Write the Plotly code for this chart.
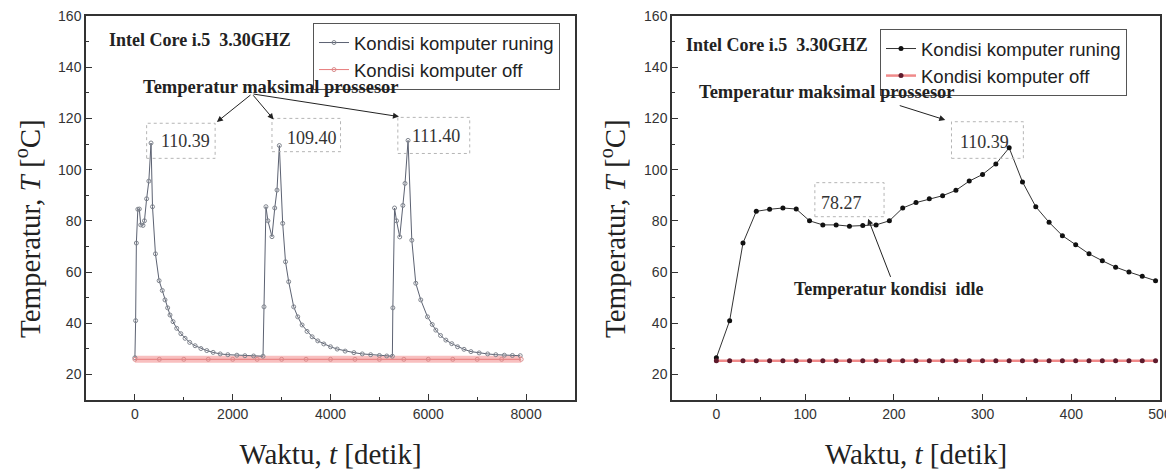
import plotly.graph_objects as go

# ---------------- data: left panel (long run, 3 cycles) ----------------
left_run_t = [0, 15, 30, 60, 90, 120, 165, 195, 240, 285, 330, 360, 420, 495,
              560, 615, 670, 718, 780, 855, 940, 1026, 1120, 1231, 1350, 1470,
              1600, 1744, 1900, 2085, 2250, 2427, 2620,
              2640, 2680, 2720, 2803, 2860, 2906, 2954, 3022, 3080, 3145, 3248,
              3330, 3419, 3520, 3624, 3740, 3863, 4000, 4137, 4300, 4479, 4650,
              4821, 5000, 5150, 5265,
              5275, 5310, 5350, 5416, 5480, 5524, 5586, 5663, 5744, 5846, 5983,
              6080, 6154, 6250, 6359, 6480, 6599, 6730, 6872, 7040, 7214, 7380,
              7555, 7720, 7880]
left_run_T = [26.5, 41.0, 71.3, 84.5, 84.6, 78.4, 78.2, 80.0, 88.6, 95.5, 110.39, 85.5, 67.1, 56.6,
              52.8, 49.1, 46.0, 43.2, 40.6, 38.0, 35.9, 34.1, 32.5, 31.2, 30.1, 29.3,
              28.6, 28.0, 27.7, 27.5, 27.3, 27.2, 27.1,
              46.4, 85.5, 80.0, 73.8, 85.0, 92.0, 109.40, 79.0, 64.0, 56.2, 46.4,
              42.5, 39.3, 36.8, 34.7, 33.1, 31.9, 30.8, 29.9, 29.1, 28.5, 28.0,
              27.7, 27.4, 27.2, 27.1,
              46.0, 85.0, 80.0, 73.7, 86.0, 94.6, 111.40, 72.4, 55.6, 49.1, 42.5,
              39.5, 37.3, 35.2, 33.4, 32.0, 30.8, 29.8, 28.9, 28.4, 28.0, 27.7,
              27.5, 27.4, 27.3]
left_off_t = [0, 500, 1000, 1500, 2000, 2500, 3000, 3500, 4000, 4500, 5000,
              5500, 6000, 6500, 7000, 7500, 7900]
left_off_T = [25.9, 25.9, 25.9, 25.9, 25.9, 25.9, 25.9, 25.9, 25.9, 25.9, 25.9,
              25.9, 25.9, 25.9, 25.9, 25.9, 25.9]

# ---------------- data: right panel (first 500 s) ----------------
right_t = [0, 15, 30, 45, 60, 75, 90, 105, 120, 135, 150, 165, 180, 195, 210,
           225, 240, 255, 270, 285, 300, 315, 330, 345, 360, 375, 390, 405,
           420, 435, 450, 465, 480, 495]
right_run_T = [26.5, 41.0, 71.3, 83.7, 84.5, 85.0, 84.6, 80.0, 78.4, 78.4, 77.9,
               78.2, 78.4, 80.0, 85.0, 87.1, 88.6, 89.8, 91.9, 95.5, 98.1, 102.2,
               108.5, 95.2, 85.5, 79.4, 74.2, 70.6, 67.1, 64.4, 61.9, 60.0, 58.3, 56.6]
right_off_T = [25.3, 25.3, 25.3, 25.3, 25.3, 25.3, 25.3, 25.3, 25.3, 25.3, 25.3,
               25.3, 25.3, 25.3, 25.3, 25.3, 25.3, 25.3, 25.3, 25.3, 25.3, 25.3,
               25.3, 25.3, 25.3, 25.3, 25.3, 25.3, 25.3, 25.3, 25.3, 25.3, 25.3, 25.3]

series_names = ["Kondisi komputer runing", "Kondisi komputer off"]
chip_label = "<b>Intel Core i.5  3.30GHZ</b>"
peak_label = "<b>Temperatur maksimal prossesor</b>"
idle_label = "<b>Temperatur kondisi  idle</b>"
left_peak_values = ["110.39", "109.40", "111.40"]
right_peak_value = "110.39"
right_idle_value = "78.27"
y_title_text = "Temperatur, <i>T</i> [<sup>o</sup>C]"
x_title_text = "Waktu, <i>t</i> [detik]"

SANS = "Liberation Sans, Arial, sans-serif"
SERIF = "Liberation Serif, Times New Roman, serif"

# page has an 8px body margin: figure placed at (8, 8)
W, H, OFF = 1166, 462, 8


def xp(px):
    return (px - OFF) / W


def yp(py):
    return 1 - (py - OFF) / H


fig = go.Figure()

# left panel traces
fig.add_trace(go.Scatter(x=left_off_t, y=left_off_T, mode="lines", xaxis="x", yaxis="y",
                         line=dict(color="rgba(245,170,170,0.75)", width=7),
                         showlegend=False, hoverinfo="skip"))
fig.add_trace(go.Scatter(x=left_run_t, y=left_run_T, mode="lines+markers", name=series_names[0],
                         xaxis="x", yaxis="y", legend="legend",
                         line=dict(color="#5c6272", width=1),
                         marker=dict(symbol="circle-open", size=4, color="#80858e",
                                     line=dict(width=1))))
fig.add_trace(go.Scatter(x=left_off_t, y=left_off_T, mode="lines+markers", name=series_names[1],
                         xaxis="x", yaxis="y", legend="legend",
                         line=dict(color="#e77b7b", width=1),
                         marker=dict(symbol="circle-open", size=4, color="#d98c8c",
                                     line=dict(width=1))))

# right panel traces
fig.add_trace(go.Scatter(x=right_t, y=right_run_T, mode="lines+markers", name=series_names[0],
                         xaxis="x2", yaxis="y2", legend="legend2",
                         line=dict(color="#333333", width=1),
                         marker=dict(symbol="circle", size=5, color="#111111")))
fig.add_trace(go.Scatter(x=right_t, y=right_off_T, mode="lines+markers", name=series_names[1],
                         xaxis="x2", yaxis="y2", legend="legend2",
                         line=dict(color="#f08a8a", width=2.5),
                         marker=dict(symbol="circle", size=5, color="#5e1a2c")))

axis_common = dict(showline=True, linecolor="#333", linewidth=1.5, mirror=True,
                   ticks="inside", ticklen=6, tickcolor="#333", tickwidth=1.2,
                   showgrid=False, zeroline=False, ticklabeloverflow="allow",
                   tickfont=dict(family=SANS, size=14, color="#333"))
xdom_l = [xp(86), xp(575)]
xdom_r = [xp(672), xp(1160)]
ydom = [yp(400), yp(16)]

xtitle = dict(text=x_title_text,
              font=dict(family=SERIF, size=29, color="#222"), standoff=24)

legend_common = dict(xanchor="left", yanchor="top", bordercolor="#555", borderwidth=1,
                     bgcolor="white", font=dict(family=SANS, size=18.5, color="#222"),
                     tracegroupgap=0, itemwidth=30)

fig.update_layout(
    width=W, height=H,
    margin=dict(l=0, r=0, t=0, b=0, autoexpand=False),
    paper_bgcolor="white", plot_bgcolor="white",
    xaxis=dict(domain=xdom_l, anchor="y", range=[-1000, 9000], dtick=2000, tick0=0,
               minor=dict(dtick=1000, ticklen=3, ticks="inside", tickcolor="#333"),
               title=xtitle, **axis_common),
    yaxis=dict(domain=ydom, anchor="x", range=[10, 160], dtick=20, tick0=0,
               minor=dict(dtick=10, ticklen=3, ticks="inside", tickcolor="#333"),
               **axis_common),
    xaxis2=dict(domain=xdom_r, anchor="y2", range=[-50, 500], dtick=100, tick0=0,
                minor=dict(dtick=50, ticklen=3, ticks="inside", tickcolor="#333"),
                title=xtitle, **axis_common),
    yaxis2=dict(domain=ydom, anchor="x2", range=[10, 160], dtick=20, tick0=0,
                minor=dict(dtick=10, ticklen=3, ticks="inside", tickcolor="#333"),
                **axis_common),
    legend=dict(x=xp(313), y=yp(23), **legend_common),
    legend2=dict(x=xp(880), y=yp(29), **legend_common),
)

ann = []
# y axis titles (rotated), placed as in the reference
for cx in (28, 613):
    ann.append(dict(x=xp(cx), y=yp(229), xref="paper", yref="paper", text=y_title_text,
                    textangle=-90, showarrow=False, xanchor="center", yanchor="middle",
                    font=dict(family=SERIF, size=29, color="#222")))

txt_font = dict(family=SERIF, size=18, color="#222")
# left panel texts
ann.append(dict(x=-580, y=150.6, xref="x", yref="y", text=chip_label, showarrow=False,
                xanchor="left", yanchor="middle", font=txt_font))
ann.append(dict(x=2787, y=132.4, xref="x", yref="y", text=peak_label, showarrow=False,
                xanchor="center", yanchor="middle", font=dict(family=SERIF, size=18.5, color="#222")))
left_label_pos = [(1026, 111.3), (3625, 112.2), (6166, 113.2)]
for (lx, ly), lab in zip(left_label_pos, left_peak_values):
    ann.append(dict(x=lx, y=ly, xref="x", yref="y", text=lab, showarrow=False,
                    xanchor="center", yanchor="middle",
                    font=dict(family=SERIF, size=18, color="#333")))
for hx, hy in [(1676, 118.6), (2837, 119.6), (5400, 120.7)]:
    ann.append(dict(x=hx, y=hy, ax=2394, ay=129.6, xref="x", yref="y", axref="x", ayref="y",
                    text="", showarrow=True, arrowhead=2, arrowsize=1.2, arrowwidth=1,
                    arrowcolor="#222"))
# right panel texts
ann.append(dict(x=-36, y=148.7, xref="x2", yref="y2", text=chip_label, showarrow=False,
                xanchor="left", yanchor="middle", font=txt_font))
ann.append(dict(x=124.7, y=130.4, xref="x2", yref="y2", text=peak_label, showarrow=False,
                xanchor="center", yanchor="middle", font=dict(family=SERIF, size=18.5, color="#222")))
ann.append(dict(x=194.5, y=53.4, xref="x2", yref="y2", text=idle_label, showarrow=False,
                xanchor="center", yanchor="middle", font=txt_font))
ann.append(dict(x=302.5, y=110.9, xref="x2", yref="y2", text=right_peak_value, showarrow=False,
                xanchor="center", yanchor="middle", font=dict(family=SERIF, size=18, color="#333")))
ann.append(dict(x=140.9, y=86.8, xref="x2", yref="y2", text=right_idle_value, showarrow=False,
                xanchor="center", yanchor="middle", font=dict(family=SERIF, size=18, color="#333")))
ann.append(dict(x=258, y=119.4, ax=205, ay=125.2, xref="x2", yref="y2", axref="x2", ayref="y2",
                text="", showarrow=True, arrowhead=2, arrowsize=1.2, arrowwidth=1, arrowcolor="#222"))
ann.append(dict(x=171, y=80.8, ax=197, ay=57.5, xref="x2", yref="y2", axref="x2", ayref="y2",
                text="", showarrow=True, arrowhead=2, arrowsize=1.2, arrowwidth=1, arrowcolor="#222"))
fig.update_layout(annotations=ann)

# dotted label boxes
boxes = [("x", "y", 240, 1641, 104.4, 118.1),
         ("x", "y", 2803, 4205, 107.0, 120.0),
         ("x", "y", 5377, 6847, 106.3, 120.4),
         ("x2", "y2", 265, 346, 104.4, 118.7),
         ("x2", "y2", 111, 189, 81.6, 94.9)]
for xr, yr, x0, x1, y0, y1 in boxes:
    fig.add_shape(type="rect", xref=xr, yref=yr, x0=x0, x1=x1, y0=y0, y1=y1,
                  line=dict(color="#b5b5b5", width=1, dash="dot"), fillcolor="rgba(0,0,0,0)")

fig.write_html("out.html")
